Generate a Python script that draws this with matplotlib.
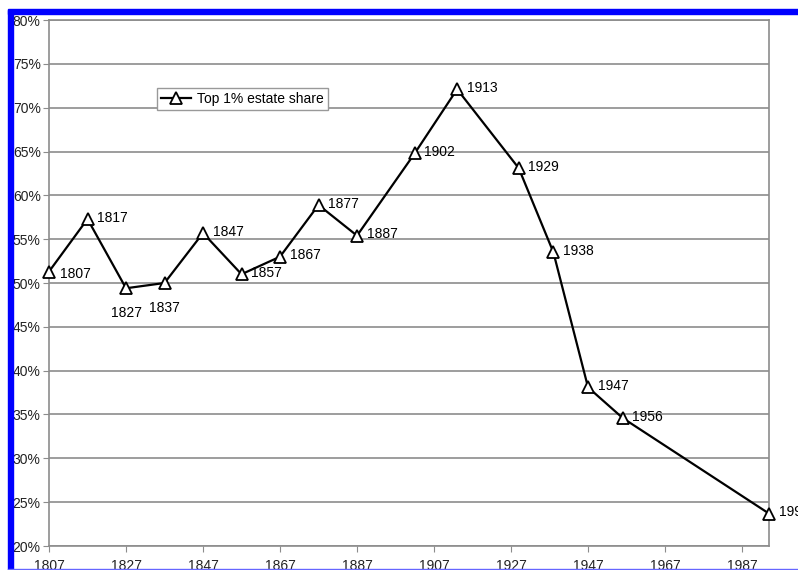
import numpy as np
import matplotlib.pyplot as plt
from matplotlib.patches import Rectangle
from matplotlib.ticker import FuncFormatter

# Datos
years = [1807, 1817, 1827, 1837, 1847, 1857, 1867, 1877, 1887, 1902, 1913, 1929, 1938, 1947, 1956, 1994]
share = [51.3, 57.3, 49.4, 50.0, 55.7, 51.0, 53.0, 58.9, 55.4, 64.8, 72.1, 63.1, 53.5, 38.1, 34.6, 23.7]
labels = ['1807', '1817', '1827', '1837', '1847', '1857', '1867', '1877', '1887', '1902', '1913',
          '1929', '1938', '1947', '1956', '1994']
below = ['1827', '1837']
xticks = [1807, 1827, 1847, 1867, 1887, 1907, 1927, 1947, 1967, 1987]
yticks = [20, 25, 30, 35, 40, 45, 50, 55, 60, 65, 70, 75, 80]

plt.rcParams['font.family'] = ['Liberation Sans', 'DejaVu Sans']

fig = plt.figure(figsize=(7.98, 5.70), dpi=100)
ax = fig.add_axes([49/798, 24/570, 720/798, 526/570])

ax.plot(years, share, '-k', lw=1.6, marker='^', ms=9, mfc='white', mec='black', mew=1.3,
        label='Top 1% estate share', clip_on=False, zorder=3)

for x, y, t in zip(years, share, labels):
    if t in below:
        ax.annotate(t, (x, y), xytext=(0, -13), textcoords='offset points',
                    ha='center', va='top', fontsize=10)
    elif t == '1807':
        ax.annotate(t, (x, y), xytext=(8, -2), textcoords='offset points',
                    ha='left', va='center', fontsize=10)
    else:
        ax.annotate(t, (x, y), xytext=(7, 1), textcoords='offset points',
                    ha='left', va='center', fontsize=10, annotation_clip=False)

ax.set_xlim(1807, 1994)
ax.set_ylim(20, 80)
ax.set_xticks(xticks)
ax.set_yticks(yticks)
ax.yaxis.set_major_formatter(FuncFormatter(lambda v, p: '%d%%' % v))
ax.grid(axis='y', color='#8c8c8c', lw=1.2)
ax.set_axisbelow(True)
for s in ax.spines.values():
    s.set_color('#8c8c8c')
    s.set_linewidth(1.2)
ax.tick_params(axis='both', colors='#8c8c8c', labelcolor='#222222', labelsize=10, length=4)
ax.tick_params(axis='y', pad=2)
ax.tick_params(axis='x', pad=5)

leg = ax.legend(loc='upper left', bbox_to_anchor=(0.14, 0.884), fontsize=10, fancybox=False,
                framealpha=1, edgecolor='#999999', handlelength=2.2, borderpad=0.3,
                handletextpad=0.4)
leg.get_frame().set_linewidth(1.0)

# Marco azul del escaneo
fig.patches.append(Rectangle((8/798, 0), 5/798, 560/570, transform=fig.transFigure,
                             color='#0000ff', zorder=10))
fig.patches.append(Rectangle((8/798, 556/570), 790/798, 5/570, transform=fig.transFigure,
                             color='#0000ff', zorder=10))
fig.patches.append(Rectangle((8/798, 0), 790/798, 1.5/570, transform=fig.transFigure,
                             color='#6666ff', zorder=10))

fig.savefig('out.png', dpi=100)
